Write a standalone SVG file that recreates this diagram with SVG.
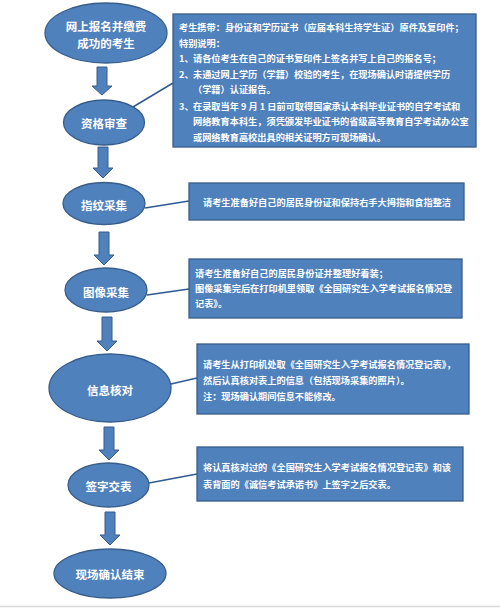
<svg xmlns="http://www.w3.org/2000/svg" width="500" height="608" viewBox="0 0 500 608">
<style>
.n{fill:#4F81BD;stroke:#385D8A;stroke-width:1.3}
.b{fill:#4F81BD;stroke:#385D8A;stroke-width:1.3}
.t{font-family:"Noto Sans CJK SC","Noto Sans",sans-serif;fill:#fff;font-weight:bold}
.et{font-size:11.5px;text-anchor:middle;dominant-baseline:central}
.bt{font-size:9.2px;dominant-baseline:central}
.c{stroke:#2F5A8F;stroke-width:1.5;fill:none}
.a{fill:#4F81BD;stroke:#385D8A;stroke-width:1}
</style>
<rect x="0" y="0" width="500" height="608" fill="#fff"/>
<g id="connectors">
<line class="c" x1="133" y1="107" x2="173" y2="83"/>
<line class="c" x1="145" y1="208" x2="189" y2="201"/>
<line class="c" x1="147" y1="295" x2="189" y2="289"/>
<line class="c" x1="171" y1="384" x2="197" y2="378"/>
<line class="c" x1="149" y1="483" x2="197" y2="474"/>
<path class="a" d="M97 67H107V86H112L102 95L92 86H97Z"/>
<path class="a" d="M98 147H108V168H113L103 178L93 168H98Z"/>
<path class="a" d="M99 232H109V255H114L104 265L94 255H99Z"/>
<path class="a" d="M102 317H112V341H117L107 351L97 341H102Z"/>
<path class="a" d="M104 427H114V450H119L109 460L99 450H104Z"/>
<path class="a" d="M105 512H115V535H120L110 545L100 535H105Z"/>
</g>
<g id="n1">
<ellipse class="n" cx="106" cy="33" rx="61" ry="30"/>
<text class="t et" x="106" y="25.5">网上报名并缴费</text>
<text class="t et" x="106" y="42.5">成功的考生</text>
</g>
<g id="n2">
<ellipse class="n" cx="104" cy="122.5" rx="40.5" ry="22.5"/>
<text class="t et" x="104" y="123">资格审查</text>
</g>
<g id="box1">
<rect class="b" x="173" y="14" width="303" height="133"/>
<text class="t bt" x="179" y="27">考生携带：身份证和学历证书（应届本科生持学生证）原件及复印件；</text>
<text class="t bt" x="179" y="43">特别说明：</text>
<text class="t bt" x="179" y="58">1、</text>
<text class="t bt" x="193" y="58">请各位考生在自己的证书复印件上签名并写上自己的报名号；</text>
<text class="t bt" x="179" y="74">2、</text>
<text class="t bt" x="193" y="74">未通过网上学历（学籍）校验的考生，在现场确认时请提供学历</text>
<text class="t bt" x="193" y="89">（学籍）认证报告。</text>
<text class="t bt" x="179" y="106">3、</text>
<text class="t bt" x="193" y="106">在录取当年 9 月 1 日前可取得国家承认本科毕业证书的自学考试和</text>
<text class="t bt" x="193" y="121">网络教育本科生，须凭颁发毕业证书的省级高等教育自学考试办公室</text>
<text class="t bt" x="193" y="137">或网络教育高校出具的相关证明方可现场确认。</text>
</g>
<g id="n3">
<ellipse class="n" cx="104" cy="203.5" rx="41" ry="21"/>
<text class="t et" x="104" y="205">指纹采集</text>
</g>
<g id="box2">
<rect class="b" x="189" y="183" width="275" height="37"/>
<text class="t bt" x="203" y="202">请考生准备好自己的居民身份证和保持右手大拇指和食指整洁</text>
</g>
<g id="n4">
<ellipse class="n" cx="106" cy="290" rx="41" ry="22"/>
<text class="t et" x="106" y="292">图像采集</text>
</g>
<g id="box3">
<rect class="b" x="189" y="259" width="273" height="59"/>
<text class="t bt" x="195" y="273">请考生准备好自己的居民身份证并整理好着装；</text>
<text class="t bt" x="195" y="288">图像采集完后在打印机里领取《全国研究生入学考试报名情况登</text>
<text class="t bt" x="195" y="303">记表》。</text>
</g>
<g id="n5">
<ellipse class="n" cx="110" cy="388" rx="61" ry="34"/>
<text class="t et" x="110" y="390">信息核对</text>
</g>
<g id="box4">
<rect class="b" x="197" y="344" width="272" height="70"/>
<text class="t bt" x="203" y="364">请考生从打印机处取《全国研究生入学考试报名情况登记表》，</text>
<text class="t bt" x="203" y="380">然后认真核对表上的信息（包括现场采集的照片）。</text>
<text class="t bt" x="203" y="396">注：现场确认期间信息不能修改。</text>
</g>
<g id="n6">
<ellipse class="n" cx="108.5" cy="485" rx="40.5" ry="22"/>
<text class="t et" x="108.5" y="486">签字交表</text>
</g>
<g id="box5">
<rect class="b" x="197" y="447" width="266" height="54"/>
<text class="t bt" x="203" y="467">将认真核对过的《全国研究生入学考试报名情况登记表》和该</text>
<text class="t bt" x="203" y="484">表背面的《诚信考试承诺书》上签字之后交表。</text>
</g>
<g id="n7">
<ellipse class="n" cx="110" cy="573.5" rx="56" ry="24.5"/>
<text class="t et" x="110" y="574">现场确认结束</text>
</g>
<line x1="0" y1="606.5" x2="500" y2="606.5" stroke="#d9d9d9" stroke-width="1.5"/>
</svg>
